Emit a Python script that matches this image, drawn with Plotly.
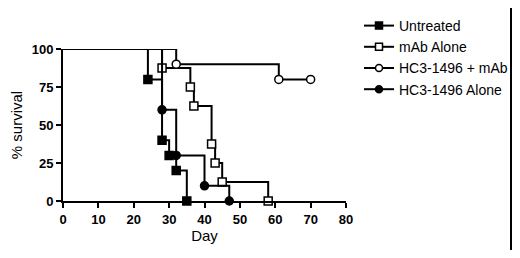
import plotly.graph_objects as go

# Kaplan-Meier style survival data (day, % survival)
untreated_day = [0, 24, 28, 30, 32, 35]
untreated_surv = [100, 80, 40, 30, 20, 0]

mab_day = [0, 28, 36, 37, 42, 43, 45, 58]
mab_surv = [100, 87.5, 75, 62.5, 37.5, 25, 12.5, 0]

combo_day = [0, 32, 61, 70]
combo_surv = [100, 90, 80, 80]

hc3_day = [0, 28, 32, 40, 47]
hc3_surv = [100, 60, 30, 10, 0]

series = [
    ("Untreated", untreated_day, untreated_surv, "square", "black"),
    ("mAb Alone", mab_day, mab_surv, "square", "white"),
    ("HC3-1496 + mAb", combo_day, combo_surv, "circle", "white"),
    ("HC3-1496 Alone", hc3_day, hc3_surv, "circle", "black"),
]

x_ticks = [0, 10, 20, 30, 40, 50, 60, 70, 80]
y_ticks = [0, 25, 50, 75, 100]

FONT = "Liberation Sans, Arial, sans-serif"

fig = go.Figure()
for name, d, s, sym, fill in series:
    fig.add_trace(go.Scatter(
        x=d, y=s, mode="lines", line=dict(shape="hv", color="black", width=2),
        showlegend=False, hoverinfo="skip", cliponaxis=False))
    fig.add_trace(go.Scatter(
        x=d[1:], y=s[1:], mode="markers",
        marker=dict(symbol=sym, size=8, color=fill, line=dict(color="black", width=1.5)),
        showlegend=False, cliponaxis=False))
    fig.add_trace(go.Scatter(
        x=[None], y=[None], mode="lines+markers", name=name,
        line=dict(color="black", width=2),
        marker=dict(symbol=sym, size=7, color=fill, line=dict(color="black", width=1.5))))

# page body adds an 8px margin; keep the figure inside the window (no scrollbars)
OFF = 8
W, H = 520 - 2 * OFF, 258 - 2 * OFF
PX0, PX1 = 63 - OFF, 346 - OFF   # plot area x
PY0, PY1 = 49 - OFF, 201 - OFF   # plot area y (top, bottom)
L, R, T, B = PX0, 1, 1, H - PY1
paper_w, paper_h = W - L - R, H - T - B
x_dom = [0, (PX1 - L) / paper_w]
y_dom = [0, (PY1 - PY0) / paper_h]

def px_x(p):
    return (p - OFF - L) / paper_w

def px_y(p):
    return (H - B - (p - OFF)) / paper_h

# right-hand frame line of the original image
fig.add_shape(type="line", xref="paper", yref="paper", layer="above",
              x0=px_x(511), x1=px_x(511), y0=px_y(250), y1=px_y(8),
              line=dict(color="black", width=2))

fig.update_layout(
    width=W, height=H,
    margin=dict(l=L, r=R, t=T, b=B, autoexpand=False),
    paper_bgcolor="white", plot_bgcolor="white",
    font=dict(family=FONT, color="black"),
    legend=dict(x=px_x(359), y=px_y(10), xanchor="left", yanchor="top",
                font=dict(size=14, family=FONT), bgcolor="rgba(0,0,0,0)",
                tracegroupgap=0, itemwidth=30),
    xaxis=dict(domain=x_dom, range=[0, 80], tickvals=x_ticks, showgrid=False, zeroline=False,
               showline=True, linecolor="black", linewidth=2, automargin=False,
               ticks="outside", ticklen=5, tickwidth=2, tickcolor="black",
               tickfont=dict(size=13, family=FONT, weight="bold"),
               title=dict(text="Day", font=dict(size=15, family=FONT), standoff=5)),
    yaxis=dict(domain=y_dom, range=[0, 100], tickvals=y_ticks, showgrid=False, zeroline=False,
               showline=True, linecolor="black", linewidth=2, automargin=False,
               ticks="outside", ticklen=5, tickwidth=2, tickcolor="black",
               tickfont=dict(size=13, family=FONT, weight="bold"),
               title=dict(text="% survival", font=dict(size=15, family=FONT), standoff=8)),
)

fig.write_html("out.html")
